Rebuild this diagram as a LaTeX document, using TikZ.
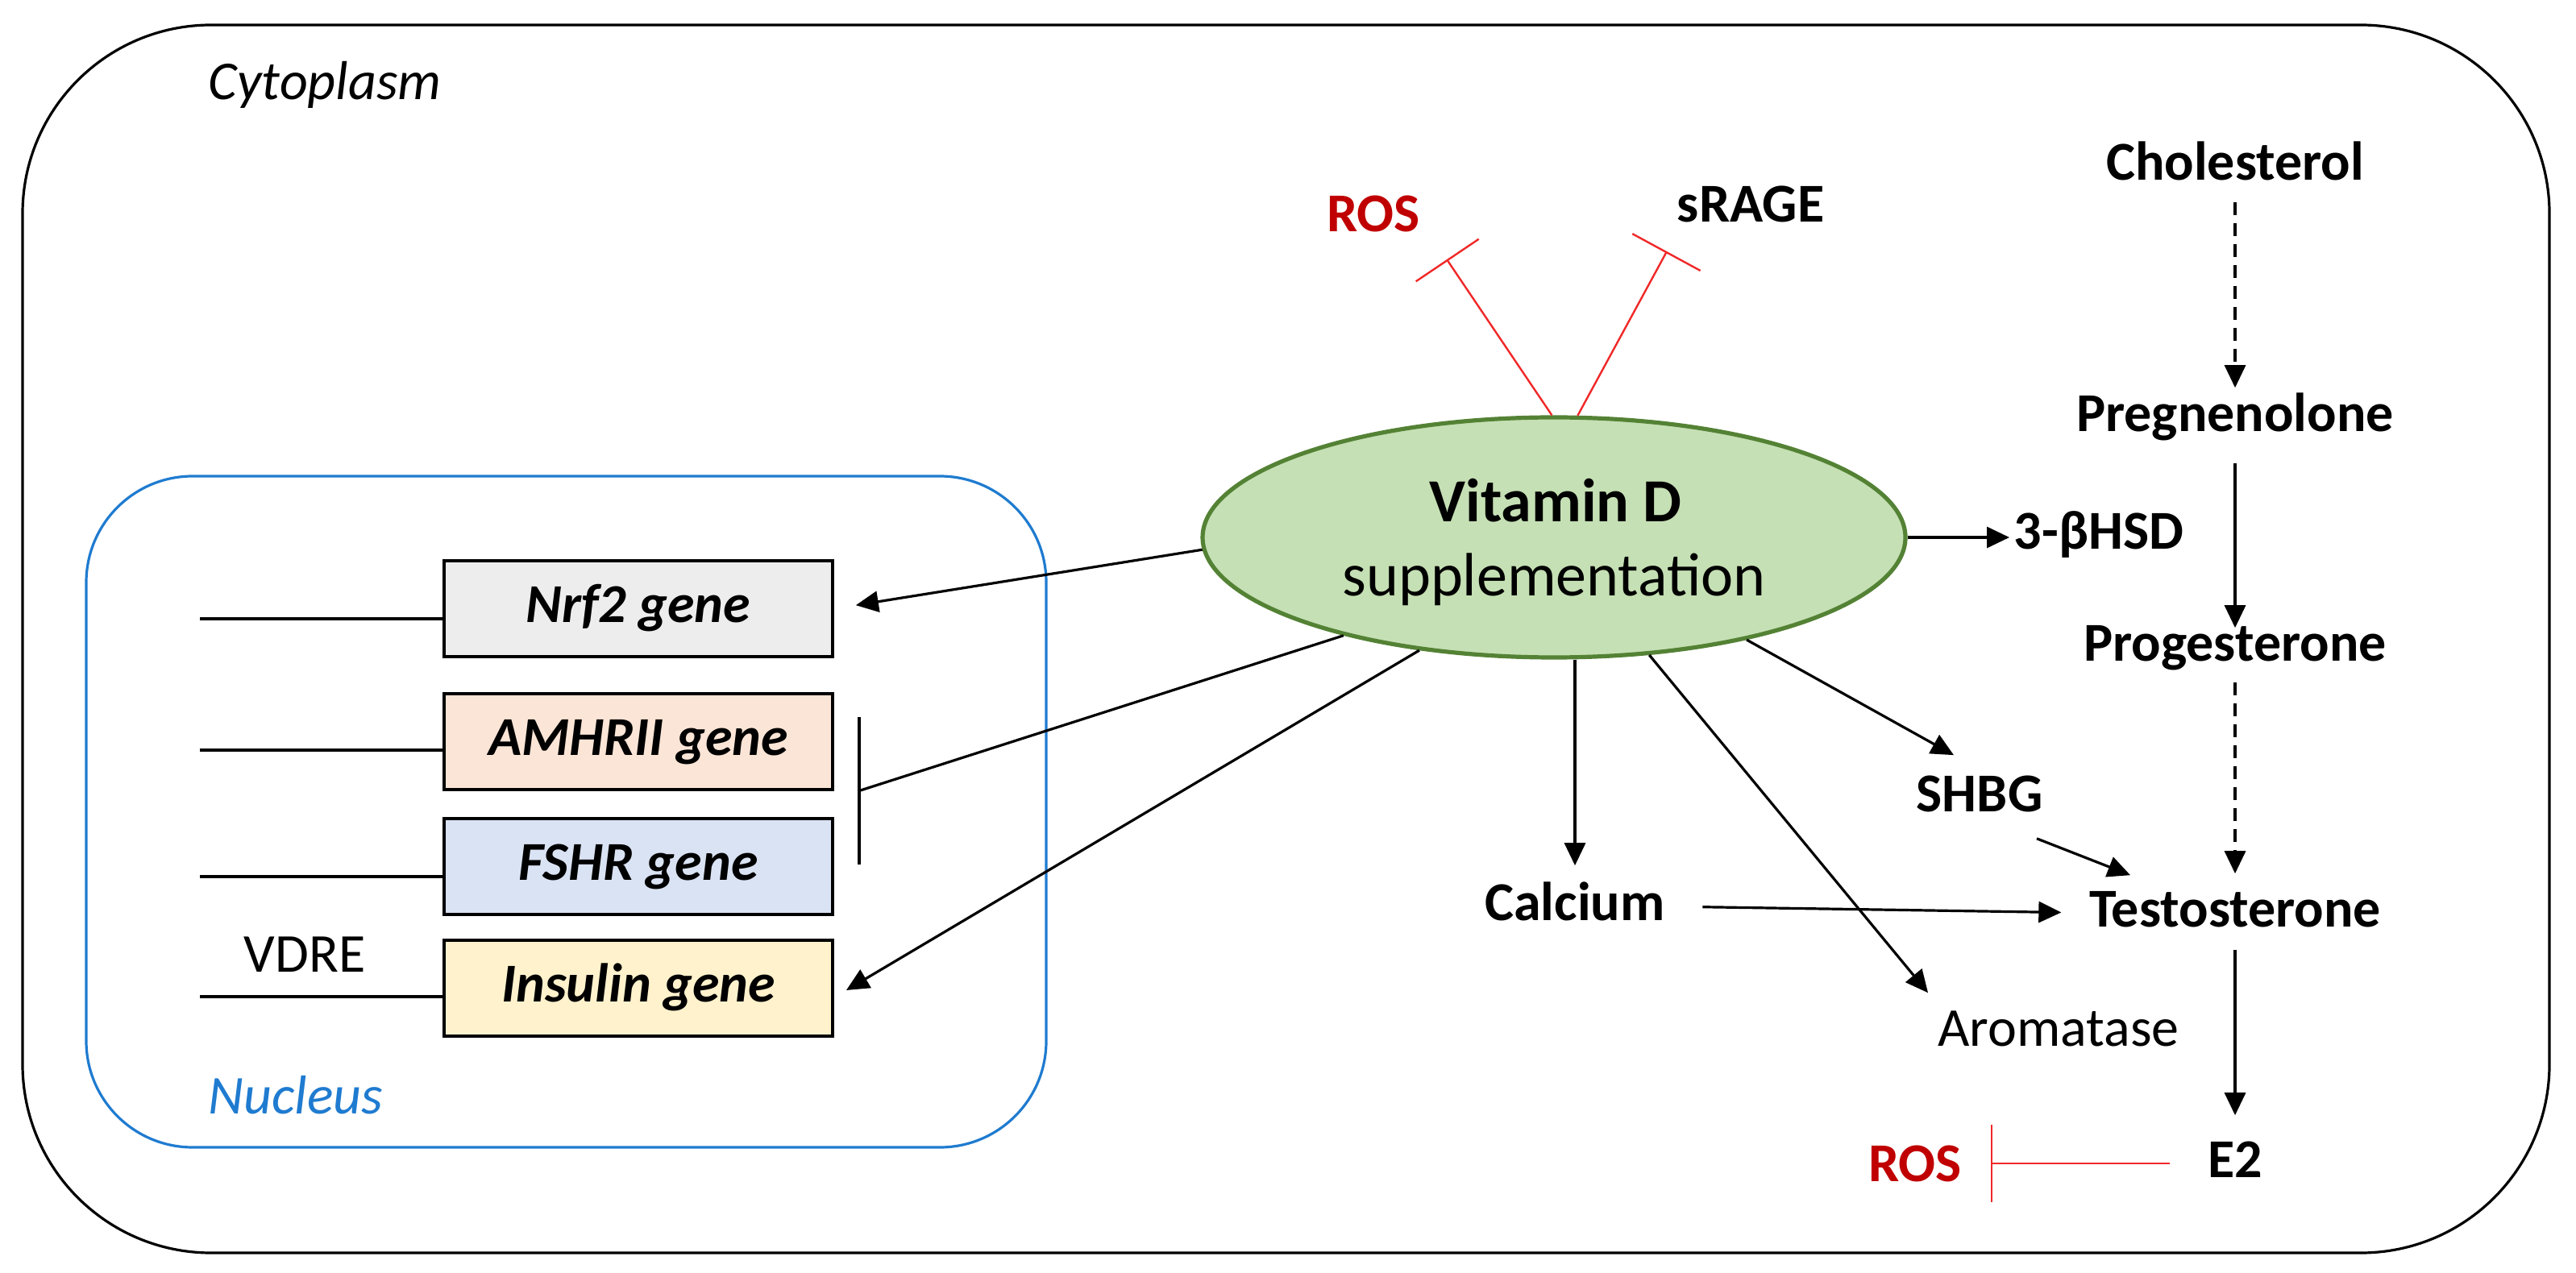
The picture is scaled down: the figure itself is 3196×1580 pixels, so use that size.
\documentclass[tikz,border=0pt]{standalone}
\usepackage{fontspec}
\setmainfont{Carlito}
\usetikzlibrary{arrows.meta,shapes.geometric,calc}
\definecolor{rosred}{HTML}{C00000}
\definecolor{inhred}{HTML}{F02828}
\definecolor{nucblue}{HTML}{1F7BD0}
\definecolor{vdfill}{HTML}{C5E0B4}
\definecolor{vdline}{HTML}{548235}
\definecolor{gnrf}{HTML}{EDEDED}
\definecolor{gamh}{HTML}{FBE5D6}
\definecolor{gfsh}{HTML}{DAE3F3}
\definecolor{gins}{HTML}{FFF2CC}
\tikzset{
  lab/.style={inner sep=0pt, text height=12pt, text depth=3.5pt, font=\fontsize{17pt}{20pt}\selectfont},
  blab/.style={lab, font=\fontsize{17pt}{20pt}\selectfont\bfseries},
  ilab/.style={lab, font=\fontsize{17pt}{20pt}\selectfont\itshape},
  arr/.style={line width=0.8pt, -{Triangle[length=7pt,width=6.5pt]}},
  dsh/.style={dash pattern=on 4pt off 2.5pt},
  inh/.style={line width=0.6pt, draw=inhred, -{Bar[width=23.5pt]}},
  gene/.style={draw=black, line width=1pt, minimum width=120.5pt, minimum height=29.75pt, inner sep=0pt,
    text height=12pt, text depth=3.5pt, font=\fontsize{17pt}{20pt}\selectfont\bfseries\itshape},
  plain/.style={line width=0.8pt}
}
\begin{document}
\begin{tikzpicture}[x=0.25pt,y=-0.25pt]
\useasboundingbox (0,0) rectangle (3196,1580);
% containers
\draw[line width=0.8pt, rounded corners=58.5pt] (28,31) rectangle (3163,1555);
\draw[nucblue, line width=0.8pt, rounded corners=33pt] (107,591) rectangle (1298,1424);
\node[ilab, anchor=base west] (cyto) at (258,124) {Cytoplasm};
\node[ilab, anchor=base west, text=nucblue] (nuc) at (258,1382) {Nucleus};

% genes
\node[gene, fill=gnrf] (nrf2) at (792,755.5) {Nrf2 gene};
\node[gene, fill=gamh] (amh) at (792,920.5) {AMHRII gene};
\node[gene, fill=gfsh] (fshr) at (792,1075) {FSHR gene};
\node[gene, fill=gins] (ins) at (792,1226.5) {Insulin gene};
\node[lab, anchor=base west] (vdre) at (302,1206) {VDRE};
\coordinate (g1) at (248,768);
\coordinate (g2) at (248,931);
\coordinate (g3) at (248,1088);
\coordinate (g4) at (248,1237);
\draw[plain] (g1) -- (g1 -| nrf2.west);
\draw[plain] (g2) -- (g2 -| amh.west);
\draw[plain] (g3) -- (g3 -| fshr.west);
\draw[plain] (g4) -- (g4 -| ins.west);
\coordinate (brT) at (1066,890);
\coordinate (brB) at (1066,1073);
\coordinate (brM) at (1066,981.5);
\draw[plain] (brT) -- (brB);

% vitamin D
\node[ellipse, draw=vdline, fill=vdfill, line width=1.3pt, minimum width=218pt, minimum height=74.5pt, inner sep=0pt] (vd) at (1928,667) {};
\node[lab, anchor=base, font=\fontsize{19pt}{22pt}\selectfont\bfseries] (vdA) at (1930,648) {Vitamin D};
\node[lab, anchor=base, font=\fontsize{19pt}{22pt}\selectfont] (vdB) at (1928,740) {supplementation};

% labels
\node[blab, anchor=base, text=rosred] (ros1) at (1704,288) {ROS};
\node[blab, anchor=base] (srage) at (2172,276) {sRAGE};
\node[blab, anchor=base] (chol) at (2773,224) {Cholesterol};
\node[blab, anchor=base] (preg) at (2773,536) {Pregnenolone};
\node[blab, anchor=base west] (hsd) at (2498,682) {3-βHSD};
\node[blab, anchor=base] (prog) at (2773,820) {Progesterone};
\node[blab, anchor=base] (shbg) at (2456,1007) {SHBG};
\node[blab, anchor=base] (calc) at (1954,1142) {Calcium};
\node[blab, anchor=base] (testo) at (2773,1150) {Testosterone};
\node[lab, anchor=base] (arom) at (2554,1298) {Aromatase};
\node[blab, anchor=base] (e2) at (2773,1461) {E2};
\node[blab, anchor=base, text=rosred] (ros2) at (2376,1466) {ROS};

% inhibition
\coordinate (rosbar1) at (1795,322);
\coordinate (sragebar) at (2068,312);
\coordinate (rosbar2) at (2470,1447);
\draw[inh] (vd.91.5) -- (rosbar1);
\draw[inh, -{Bar[width=24pt]}] (vd.79.3) -- (sragebar);
\draw[inh, -{Bar[width=24pt]}, shorten <=11.5pt] (e2.west) -- (e2.west -| rosbar2);

% steroid pathway
\draw[arr, dsh] ($(chol.south)+(0,12)$) -- ($(preg.north)+(0,-6)$);
\draw[arr] ($(preg.south)+(0,24)$) -- ($(prog.north)+(0,8)$);
\draw[arr, dsh] ($(prog.south)+(0,12)$) -- ($(testo.north)+(0,-17)$);
\draw[arr] ($(testo.south)+(0,14)$) -- ($(e2.north)+(0,-28)$);

% from vitamin D
\draw[arr] (vd.east) -- ($(vd.east -| hsd.west)+(-5,0)$);
\draw[arr] (vd.332.1) -- ($(shbg.north)+(-32,-21)$);
\draw[arr] ($(shbg.south)+(71,19)$) -- ($(testo.north)+(-130,-15)$);
\draw[arr] (vd.south -| calc.north) -- ($(calc.north)+(0,-19)$);
\draw[arr, shorten <=11.5pt, shorten >=8.5pt] (calc.east) -- (testo.west);
\draw[arr] (vd.309.4) -- ($(arom.north)+(-162,-17)$);
\draw[arr, shorten >=6.8pt] (vd.182.6) -- (nrf2.east);
\draw[plain] (vd.205) -- (brM);
\draw[arr] (vd.220) -- ($(ins.east)+(15,2.5)$);
\end{tikzpicture}
\end{document}
